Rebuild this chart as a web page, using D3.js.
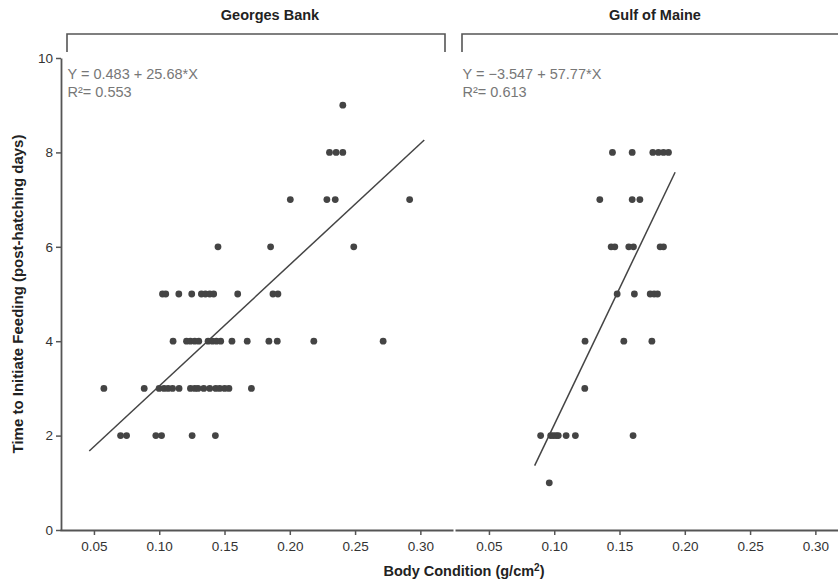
<!DOCTYPE html>
<html>
<head>
<meta charset="utf-8">
<script src="https://cdn.jsdelivr.net/npm/d3@7"></script>
<style>
  body { margin: 0; background: #fff; }
  text { font-family: "Liberation Sans", Arial, sans-serif; }
</style>
</head>
<body>
<svg id="chart" width="838" height="585"></svg>
<script>
// data
const panels = ["Georges Bank", "Gulf of Maine"];
const equations = ["Y = 0.483 + 25.68*X", "Y = \u22123.547 + 57.77*X"];
const rSquared = ["R\u00b2= 0.553", "R\u00b2= 0.613"];
const intercepts = [0.483, -3.547];
const slopes = [25.68, 57.77];
const fitRanges = [[0.0464, 0.303], [0.085, 0.1926]];

const gbX = [
  0.2406,
  0.2304, 0.2355, 0.2406,
  0.2004, 0.2284, 0.2348, 0.2918,
  0.1450, 0.1853, 0.2490,
  0.1025, 0.1050, 0.1150, 0.1249, 0.1323, 0.1354, 0.1387, 0.1417, 0.1601, 0.1871, 0.1909,
  0.1106, 0.1209, 0.1239, 0.1272, 0.1303, 0.1374, 0.1407, 0.1438, 0.1471, 0.1557, 0.1674, 0.1840, 0.1904, 0.2184, 0.2715,
  0.0576, 0.0885, 0.0999, 0.1037, 0.1068, 0.1102, 0.1152, 0.1239, 0.1272, 0.1297, 0.1341, 0.1387, 0.1433, 0.1463, 0.1501, 0.1534, 0.1706,
  0.0704, 0.0750, 0.0974, 0.1018, 0.1252, 0.1430
];
const gbY = [
  9,
  8, 8, 8,
  7, 7, 7, 7,
  6, 6, 6,
  5, 5, 5, 5, 5, 5, 5, 5, 5, 5, 5,
  4, 4, 4, 4, 4, 4, 4, 4, 4, 4, 4, 4, 4, 4, 4,
  3, 3, 3, 3, 3, 3, 3, 3, 3, 3, 3, 3, 3, 3, 3, 3, 3,
  2, 2, 2, 2, 2, 2
];

const gomX = [
  0.1446, 0.1597, 0.1755, 0.1798, 0.1837, 0.1875,
  0.1349, 0.1597, 0.1656,
  0.1436, 0.1464, 0.1571, 0.1607, 0.1811, 0.1837,
  0.1482, 0.1614, 0.1735, 0.1765, 0.1791,
  0.1236, 0.1533, 0.1748,
  0.1234,
  0.0896, 0.0973, 0.0993, 0.1014, 0.1031, 0.1091, 0.1162, 0.1604,
  0.0962
];
const gomY = [
  8, 8, 8, 8, 8, 8,
  7, 7, 7,
  6, 6, 6, 6, 6, 6,
  5, 5, 5, 5, 5,
  4, 4, 4,
  3,
  2, 2, 2, 2, 2, 2, 2, 2,
  1
];

const xTicks = [0.05, 0.10, 0.15, 0.20, 0.25, 0.30];
const yTicks = [0, 2, 4, 6, 8, 10];
const series = [[gbX, gbY], [gomX, gomY]];

// layout
const svg = d3.select("#chart");
const TOP = 58, BOTTOM = 530;
const PANEL_LEFT = [60, 455];
const PANEL_W = 393;
const TITLE_X = [210, 200];
const AXIS_COLOR = "#555";
const MARK_COLOR = "#444";

const y = d3.scaleLinear().domain([0, 10]).range([BOTTOM, TOP]);

panels.forEach((name, i) => {
  const g = svg.append("g").attr("transform", `translate(${PANEL_LEFT[i]},0)`);
  const x = d3.scaleLinear().domain([0.024, 0.325]).range([0, PANEL_W]);

  // strip bracket
  g.append("path")
    .attr("d", `M7,52V34H${PANEL_W - 8}V52`)
    .attr("fill", "none")
    .attr("stroke", AXIS_COLOR)
    .attr("stroke-width", 1.6);
  g.append("text")
    .attr("x", TITLE_X[i])
    .attr("y", 20)
    .attr("text-anchor", "middle")
    .attr("font-size", "14.5px")
    .attr("font-weight", "bold")
    .attr("fill", "#222")
    .text(name);

  // x axis
  const xa = g.append("g")
    .attr("transform", `translate(0,${BOTTOM})`)
    .call(d3.axisBottom(x).tickValues(xTicks).tickFormat(d3.format(".2f"))
      .tickSize(5).tickSizeOuter(0).tickPadding(6));
  xa.select(".domain").attr("stroke", AXIS_COLOR).attr("stroke-width", 1.8);
  xa.selectAll(".tick line").attr("stroke", AXIS_COLOR).attr("stroke-width", 1.5);
  xa.selectAll(".tick text").attr("font-size", "13.5px").attr("fill", "#333")
    .style("font-family", "'Liberation Sans', Arial, sans-serif");

  // fit line
  const [f0, f1] = fitRanges[i];
  g.append("line")
    .attr("x1", x(f0)).attr("y1", y(intercepts[i] + slopes[i] * f0))
    .attr("x2", x(f1)).attr("y2", y(intercepts[i] + slopes[i] * f1))
    .attr("stroke", MARK_COLOR)
    .attr("stroke-width", 1.5);

  // points
  const [xs, ys] = series[i];
  g.selectAll("circle.pt")
    .data(xs.map((v, k) => [v, ys[k]]))
    .join("circle")
    .attr("class", "pt")
    .attr("cx", d => x(d[0]))
    .attr("cy", d => y(d[1]))
    .attr("r", 3.4)
    .attr("fill", MARK_COLOR);

  // equation labels
  g.append("text")
    .attr("x", 7.5).attr("y", 79)
    .attr("font-size", "14.5px").attr("fill", "#777")
    .text(equations[i]);
  g.append("text")
    .attr("x", 7.5).attr("y", 97)
    .attr("font-size", "14.5px").attr("fill", "#777")
    .text(rSquared[i]);
});

// y axis (left panel only)
const ya = svg.append("g")
  .attr("transform", `translate(${PANEL_LEFT[0] + 1},0)`)
  .call(d3.axisLeft(y).tickValues(yTicks).tickSize(5).tickSizeOuter(0).tickPadding(3));
ya.select(".domain").attr("stroke", AXIS_COLOR).attr("stroke-width", 1.8);
ya.selectAll(".tick line").attr("stroke", AXIS_COLOR).attr("stroke-width", 1.5);
ya.selectAll(".tick text").attr("font-size", "13.5px").attr("fill", "#333")
  .style("font-family", "'Liberation Sans', Arial, sans-serif");

// axis titles
svg.append("text")
  .attr("transform", `translate(23,${(TOP + BOTTOM) / 2}) rotate(-90)`)
  .attr("text-anchor", "middle")
  .attr("font-size", "15px")
  .attr("font-weight", "bold")
  .attr("fill", "#222")
  .text("Time to Initiate Feeding (post-hatching days)");

const xt = svg.append("text")
  .attr("x", 464)
  .attr("y", 576)
  .attr("text-anchor", "middle")
  .attr("font-size", "14.5px")
  .attr("font-weight", "bold")
  .attr("fill", "#222")
  .text("Body Condition (g/cm");
xt.append("tspan").attr("dy", -5).attr("font-size", "10px").text("2");
xt.append("tspan").attr("dy", 5).text(")");
</script>
</body>
</html>
